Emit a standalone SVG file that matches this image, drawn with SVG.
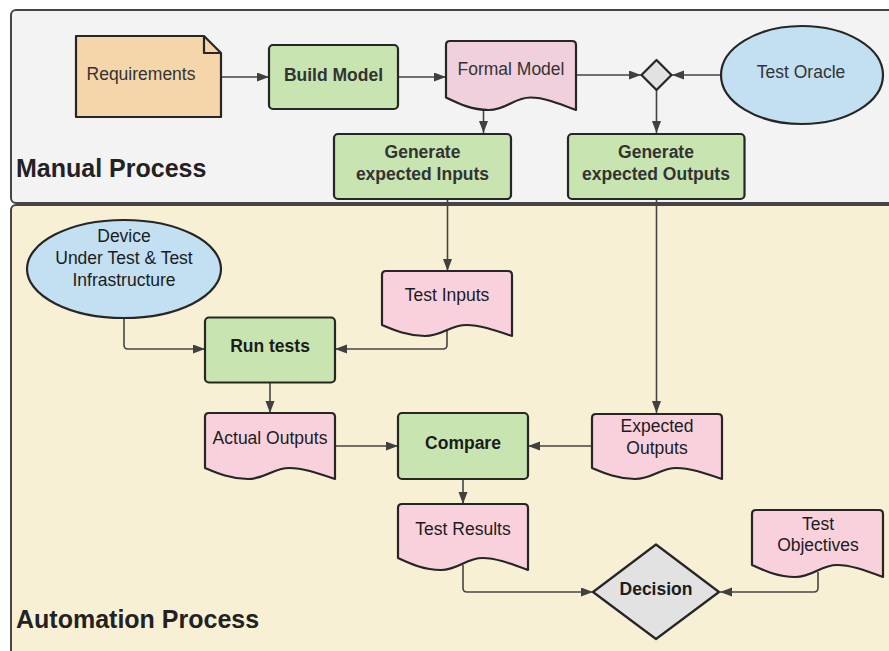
<svg xmlns="http://www.w3.org/2000/svg" width="889" height="651" viewBox="0 0 889 651">
  <defs>
    <marker id="arrow" markerUnits="userSpaceOnUse" markerWidth="13" markerHeight="10" refX="12" refY="4.5" orient="auto">
      <path d="M0,0 L12,4.5 L0,9 Z" fill="#404040"/>
    </marker>
    <style>
      .lane { stroke: #454545; stroke-width: 2; }
      .node { stroke: #262626; stroke-width: 2.2; stroke-linejoin: round; }
      .proc { fill: #c8e4b0; }
      .doc { fill: #f8d1dd; }
      .docm { fill: #f0d0dc; }
      .oval { fill: #c2e0f2; }
      .gate { fill: #e2e2e2; }
      .edge { fill: none; stroke: #454545; stroke-width: 1.6; marker-end: url(#arrow); }
      text { font-family: "Liberation Sans", Arial, sans-serif; font-size: 17.5px; text-anchor: middle; fill: #1c1c1c; }
      .top text { fill: #333333; }
      .b { font-weight: bold; }
      .title { font-size: 25px; font-weight: bold; text-anchor: start; fill: #222222; }
    </style>
  </defs>

  <!-- swimlanes -->
  <g id="lane-manual">
    <rect class="lane" x="11" y="10" width="900" height="193" rx="5" fill="#f3f3f3"/>
    <text class="title" x="16" y="177">Manual Process</text>
  </g>
  <g id="lane-automation">
    <rect class="lane" x="11" y="205" width="900" height="470" rx="5" fill="#f8f0d4"/>
    <text class="title" x="16" y="628">Automation Process</text>
  </g>

  <!-- connectors -->
  <g id="connectors">
    <path class="edge" d="M221,77 H269"/>
    <path class="edge" d="M398,77 H446"/>
    <path class="edge" d="M576,75 H641"/>
    <path class="edge" d="M721,75 H672"/>
    <path class="edge" d="M483.5,108 V133"/>
    <path class="edge" d="M656.5,90 V133"/>
    <path class="edge" d="M447.5,199 V271"/>
    <path class="edge" d="M656.5,199 V413"/>
    <path class="edge" d="M124,318 V345 Q124,349 128,349 H205"/>
    <path class="edge" d="M447,330 V345 Q447,349 443,349 H335"/>
    <path class="edge" d="M270,382 V413"/>
    <path class="edge" d="M335,446 H398"/>
    <path class="edge" d="M592,446 H528"/>
    <path class="edge" d="M463,479 V504"/>
    <path class="edge" d="M463,565 V588 Q463,592 467,592 H593"/>
    <path class="edge" d="M818,572 V588 Q818,592 814,592 H720"/>
  </g>

  <!-- manual process nodes -->
  <g class="top">
    <g id="requirements">
      <path class="node" d="M76,36 H204 L221,53 V117 H76 Z" fill="#f4d6aa"/>
      <path class="node" d="M204,36 V53 H221" fill="none"/>
      <text x="141" y="80">Requirements</text>
    </g>
    <g id="build-model">
      <rect class="node proc" x="269" y="45" width="129" height="64" rx="4"/>
      <text class="b" x="333.5" y="80.5">Build Model</text>
    </g>
    <g id="formal-model">
      <path class="node docm" d="M446,97.5 V45 Q446,41 450,41 H572 Q576,41 576,45 V110 C556.5,102.5 543.5,97.5 530.5,97.5 C513.6,97.5 507.1,110 488.9,110 C472,110 459,103.8 446,97.5 Z"/>
      <text x="511" y="75">Formal Model</text>
    </g>
    <g id="merge">
      <path class="node gate" d="M641.5,75 L656.5,60 L671.5,75 L656.5,90 Z"/>
    </g>
    <g id="test-oracle">
      <ellipse class="node oval" cx="802" cy="75" rx="81" ry="49"/>
      <text x="801" y="78">Test Oracle</text>
    </g>
    <g id="gen-inputs">
      <rect class="node proc" x="334" y="134" width="177" height="65" rx="4"/>
      <text class="b" x="422.5" y="158">Generate</text>
      <text class="b" x="422.5" y="179.5">expected Inputs</text>
    </g>
    <g id="gen-outputs">
      <rect class="node proc" x="568" y="134" width="176.5" height="65" rx="4"/>
      <text class="b" x="656" y="158">Generate</text>
      <text class="b" x="656" y="179.5">expected Outputs</text>
    </g>
  </g>

  <!-- automation process nodes -->
  <g id="device">
    <ellipse class="node oval" cx="124" cy="269" rx="97" ry="49"/>
    <text x="124" y="242">Device</text>
    <text x="124" y="264">Under Test &amp; Test</text>
    <text x="124" y="286">Infrastructure</text>
  </g>
  <g id="test-inputs">
    <path class="node doc" d="M382,325 V275 Q382,271 386,271 H508 Q512,271 512,275 V336 C492.5,329.4 479.5,325 466.5,325 C449.6,325 443.1,336 424.9,336 C408,336 395,330.5 382,325 Z"/>
    <text x="447" y="301">Test Inputs</text>
  </g>
  <g id="run-tests">
    <rect class="node proc" x="205" y="317.5" width="130" height="65" rx="4"/>
    <text class="b" x="270" y="352">Run tests</text>
  </g>
  <g id="actual-outputs">
    <path class="node doc" d="M205,468 V417 Q205,413 209,413 H331 Q335,413 335,417 V479 C315.5,472.4 302.5,468 289.5,468 C272.6,468 266.1,479 247.9,479 C231,479 218,473.5 205,468 Z"/>
    <text x="270" y="443.5">Actual Outputs</text>
  </g>
  <g id="compare">
    <rect class="node proc" x="398" y="413" width="130" height="66" rx="4"/>
    <text class="b" x="463" y="448.5">Compare</text>
  </g>
  <g id="expected-outputs">
    <path class="node doc" d="M592,468 V418 Q592,414 596,414 H718 Q722,414 722,418 V479 C702.5,472.4 689.5,468 676.5,468 C659.6,468 653.1,479 634.9,479 C618,479 605,473.5 592,468 Z"/>
    <text x="657" y="432">Expected</text>
    <text x="657" y="453.5">Outputs</text>
  </g>
  <g id="test-results">
    <path class="node doc" d="M398,558 V508 Q398,504 402,504 H524 Q528,504 528,508 V570 C508.5,562.8 495.5,558 482.5,558 C465.6,558 459.1,570 440.9,570 C424,570 411,564 398,558 Z"/>
    <text x="463" y="535">Test Results</text>
  </g>
  <g id="decision">
    <path class="node gate" d="M593,592 L656,544.5 L719,592 L656,639 Z"/>
    <text class="b" x="656" y="595">Decision</text>
  </g>
  <g id="test-objectives">
    <path class="node doc" d="M752,565 V514 Q752,510 756,510 H879 Q883,510 883,514 V577 C863.4,569.8 850.3,565 837.2,565 C820.1,565 813.6,577 795.2,577 C778.2,577 765.1,571 752,565 Z"/>
    <text x="818" y="529.5">Test</text>
    <text x="818" y="551">Objectives</text>
  </g>
</svg>
